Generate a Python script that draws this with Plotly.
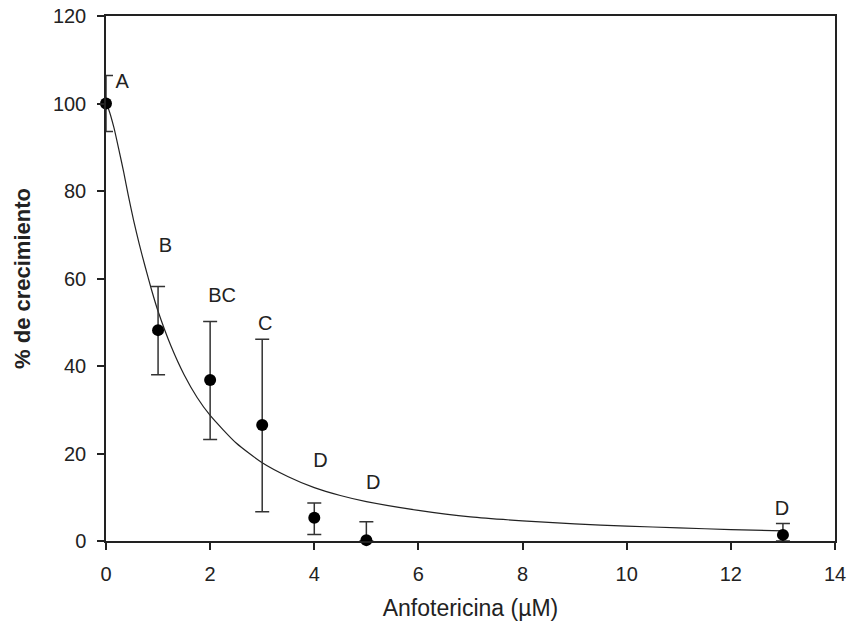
import plotly.graph_objects as go

# Data
conc = [0, 1, 2, 3, 4, 5, 13]
growth = [100, 48.2, 36.8, 26.5, 5.3, 0.2, 1.4]
err_plus = [6.4, 10.0, 13.4, 19.6, 3.4, 4.2, 2.6]
err_minus = [6.4, 10.2, 13.6, 19.8, 3.8, 0.2, 1.4]

# Fitted curve
fit_x = [0, 0.05, 0.15, 0.25, 0.34, 0.43, 0.53, 0.64, 0.75, 0.87, 1, 1.25, 1.5, 1.75, 2, 2.5, 3,
         3.5, 4, 4.5, 5, 6, 7, 8, 9, 10, 11, 12, 13]
fit_y = [100, 98.7, 94.6, 89.3, 84.3, 78.9, 73.3, 67.8, 62.8, 57.6, 52.5, 44.5, 38.0, 32.8, 28.7, 22.4,
         17.9, 14.7, 12.2, 10.4, 9.0, 7.0, 5.5, 4.6, 3.9, 3.4, 3.0, 2.6, 2.3]

# Significance letters
letters = ["A", "B", "BC", "C", "D", "D", "D"]
letter_x = [0.31, 1.14, 2.23, 3.06, 4.12, 5.13, 12.98]
letter_y = [104.6, 67.1, 55.7, 49.3, 18.0, 13.0, 7.2]

x_ticks = [0, 2, 4, 6, 8, 10, 12, 14]
y_ticks = [0, 20, 40, 60, 80, 100, 120]

FONT = "Liberation Sans, Arial, sans-serif"

fig = go.Figure()

fig.add_trace(go.Scatter(
    x=fit_x, y=fit_y, mode="lines",
    line=dict(color="#222222", width=1.2, shape="spline", smoothing=0.6),
    hoverinfo="skip", showlegend=False, cliponaxis=False,
))

fig.add_trace(go.Scatter(
    x=conc, y=growth, mode="markers",
    marker=dict(color="black", size=12),
    error_y=dict(type="data", symmetric=False, array=err_plus, arrayminus=err_minus,
                 color="#333333", thickness=1.5, width=7),
    showlegend=False, cliponaxis=False,
))

fig.add_trace(go.Scatter(
    x=letter_x, y=letter_y, mode="text", text=letters,
    textposition="middle center",
    textfont=dict(family=FONT, size=20, color="#222222"),
    showlegend=False, cliponaxis=False, hoverinfo="skip",
))

fig.update_layout(
    width=848, height=628,
    margin=dict(l=106, r=13, t=16, b=87),
    paper_bgcolor="white", plot_bgcolor="white",
    font=dict(family=FONT, size=20, color="#222222"),
)

fig.update_xaxes(
    range=[0, 14], tickvals=x_ticks, ticks="outside", ticklen=7, tickwidth=1.5,
    tickcolor="#222222", showline=True, linecolor="#222222", linewidth=1.5,
    mirror=True, showgrid=False, zeroline=False, ticklabelstandoff=7, automargin=False,
    tickfont=dict(size=20),
    title=dict(text="Anfotericina (µM)", font=dict(size=23), standoff=16),
)
fig.update_yaxes(
    range=[0, 120], tickvals=y_ticks, ticks="outside", ticklen=7, tickwidth=1.5,
    tickcolor="#222222", showline=True, linecolor="#222222", linewidth=1.5,
    mirror=True, showgrid=False, zeroline=False, ticklabelstandoff=7, automargin=False,
    tickfont=dict(size=20),
    title=dict(text="<b>% de crecimiento</b>", font=dict(size=22), standoff=16),
)

fig.write_html("out.html")
